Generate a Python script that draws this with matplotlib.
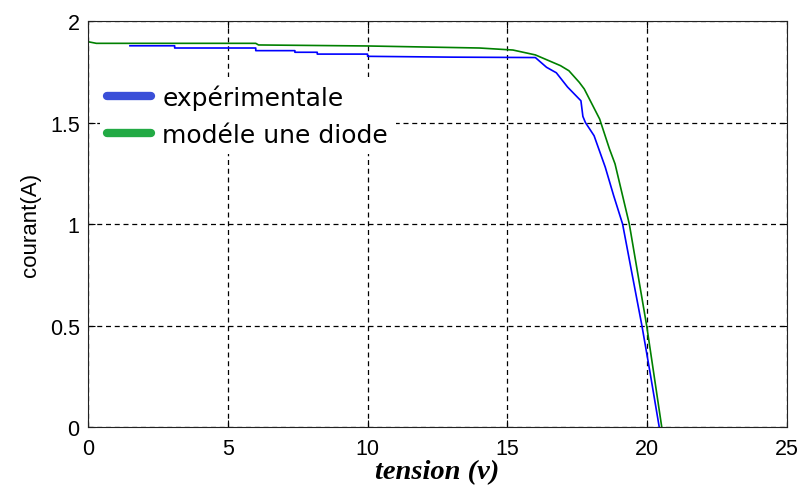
import matplotlib.pyplot as plt
from matplotlib.lines import Line2D

# Courbe I-V : mesures et modèle à une diode
exp_v = [1.5, 3.1, 3.1, 6.0, 6.0, 7.4, 7.4, 8.2, 8.2, 10.0, 10.0, 13.0, 16.0,
         16.4, 16.75, 17.15, 17.63, 17.7, 17.79, 18.1, 18.5, 18.8, 19.12, 19.45,
         19.81, 20.1, 20.43]
exp_i = [1.878, 1.878, 1.867, 1.867, 1.854, 1.854, 1.846, 1.846, 1.837, 1.837,
         1.826, 1.822, 1.82, 1.772, 1.745, 1.675, 1.607, 1.53, 1.50, 1.435,
         1.28, 1.14, 1.0, 0.76, 0.5, 0.27, 0.0]

mod_v = [0, 0.3, 6.0, 6.1, 10.0, 14.0, 15.2, 16.0, 16.9, 17.2, 17.57, 17.75,
         18.3, 18.65, 18.85, 19.36, 19.98, 20.52]
mod_i = [1.898, 1.89, 1.89, 1.882, 1.877, 1.867, 1.857, 1.833, 1.78, 1.755,
         1.698, 1.665, 1.517, 1.37, 1.296, 1.0, 0.5, 0.0]

labels = ['expérimentale', 'modéle une diode']
x_ticks = [0, 5, 10, 15, 20, 25]
y_ticks = [0, 0.5, 1, 1.5, 2]

fig = plt.figure(figsize=(8.02, 4.89), dpi=100)
ax = fig.add_axes([0.1097, 0.1247, 0.8716, 0.8303])

ax.plot(exp_v, exp_i, color='#0000ff', lw=1.2)
ax.plot(mod_v, mod_i, color='#008000', lw=1.2)

ax.set_xlim(0, 25)
ax.set_ylim(0, 2)
ax.set_xticks(x_ticks)
ax.set_yticks(y_ticks)
ax.set_xticklabels([str(t) for t in x_ticks])
ax.set_yticklabels(['0', '0.5', '1', '1.5', '2'])
ax.grid(True, color='black', linestyle=(0, (4, 3)), lw=0.9)
ax.tick_params(direction='in', top=True, right=True, length=5, labelsize=15.5)
ax.tick_params(axis='x', pad=8)
ax.tick_params(axis='y', pad=6)
for lab in ax.get_xticklabels() + ax.get_yticklabels():
    lab.set_family('Liberation Sans')
for sp in ax.spines.values():
    sp.set_color('#222222')

ax.set_xlabel('tension (v)', family='Liberation Serif', style='italic',
              weight='bold', fontsize=20.5, labelpad=0)
ax.set_ylabel('courant(A)', family='Liberation Sans', fontsize=16, labelpad=6)

handles = [Line2D([], [], color='#3a4fd8', lw=6, solid_capstyle='round'),
           Line2D([], [], color='#22aa44', lw=6, solid_capstyle='round')]
leg = ax.legend(handles, labels, loc='upper left',
                bbox_to_anchor=(0.017, 0.862), frameon=True,
                prop={'family': 'DejaVu Sans', 'size': 18}, handlelength=1.75,
                handletextpad=0.45, labelspacing=0.5, borderaxespad=0,
                borderpad=0.3)
leg.get_frame().set_edgecolor('none')
leg.get_frame().set_facecolor('white')
leg.get_frame().set_alpha(1)

fig.savefig('out.png', dpi=100)
